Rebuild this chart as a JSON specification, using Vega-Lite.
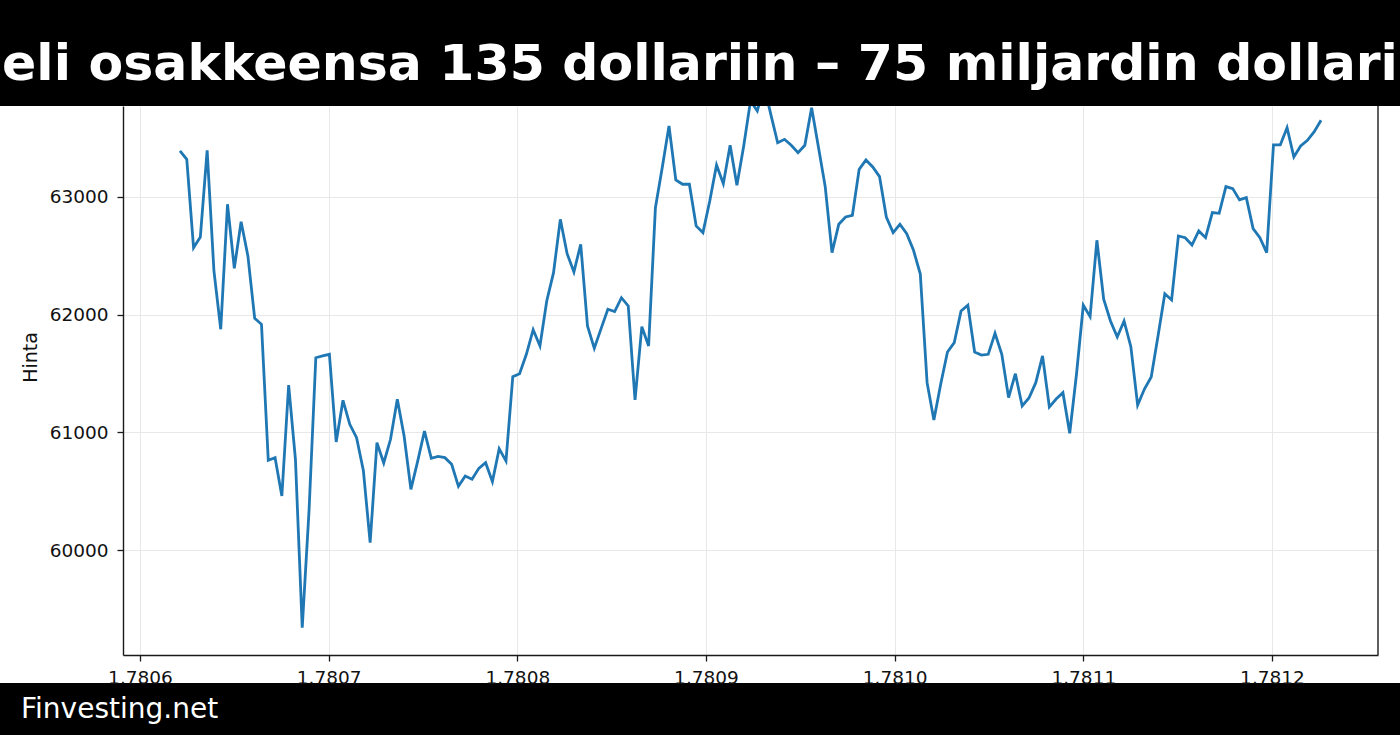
{
  "$schema": "https://vega.github.io/schema/vega-lite/v6.json",
  "background": "black",
  "padding": 0,
  "spacing": 0,
  "config": {"view": {"stroke": null}, "font": "DejaVu Sans"},
  "vconcat": [
    {
      "width": 1400,
      "height": 105,
      "view": {"fill": "black", "stroke": null},
      "data": {"values": [{"otsikko": "eli osakkeensa 135 dollariin – 75 miljardin dollari"}]},
      "mark": {"type": "text", "font": "DejaVu Sans", "fontWeight": "bold", "fontSize": 50.5, "color": "white", "dy": 12},
      "encoding": {"text": {"field": "otsikko"}}
    },
    {
      "width": 1400,
      "height": 577,
      "view": {"fill": "white", "stroke": null},
      "layer": [
        {
          "data": {"values": [
            {"t": 1.7806212, "hinta": 63391}, {"t": 1.7806248, "hinta": 63320}, {"t": 1.7806284, "hinta": 62569}, {"t": 1.7806320, "hinta": 62660},
            {"t": 1.7806356, "hinta": 63397}, {"t": 1.7806392, "hinta": 62371}, {"t": 1.7806428, "hinta": 61876}, {"t": 1.7806464, "hinta": 62938},
            {"t": 1.7806500, "hinta": 62394}, {"t": 1.7806536, "hinta": 62790}, {"t": 1.7806572, "hinta": 62499}, {"t": 1.7806608, "hinta": 61969},
            {"t": 1.7806644, "hinta": 61918}, {"t": 1.7806680, "hinta": 60762}, {"t": 1.7806716, "hinta": 60785}, {"t": 1.7806752, "hinta": 60459},
            {"t": 1.7806788, "hinta": 61402}, {"t": 1.7806824, "hinta": 60771}, {"t": 1.7806860, "hinta": 59340}, {"t": 1.7806896, "hinta": 60332},
            {"t": 1.7806932, "hinta": 61634}, {"t": 1.7806968, "hinta": 61649}, {"t": 1.7807004, "hinta": 61663}, {"t": 1.7807040, "hinta": 60918},
            {"t": 1.7807076, "hinta": 61272}, {"t": 1.7807112, "hinta": 61068}, {"t": 1.7807148, "hinta": 60955}, {"t": 1.7807184, "hinta": 60677},
            {"t": 1.7807220, "hinta": 60062}, {"t": 1.7807256, "hinta": 60912}, {"t": 1.7807292, "hinta": 60740}, {"t": 1.7807328, "hinta": 60941},
            {"t": 1.7807364, "hinta": 61281}, {"t": 1.7807400, "hinta": 60969}, {"t": 1.7807436, "hinta": 60516}, {"t": 1.7807472, "hinta": 60756},
            {"t": 1.7807508, "hinta": 61011}, {"t": 1.7807544, "hinta": 60779}, {"t": 1.7807580, "hinta": 60796}, {"t": 1.7807616, "hinta": 60785},
            {"t": 1.7807652, "hinta": 60728}, {"t": 1.7807688, "hinta": 60541}, {"t": 1.7807724, "hinta": 60629}, {"t": 1.7807760, "hinta": 60601},
            {"t": 1.7807796, "hinta": 60694}, {"t": 1.7807832, "hinta": 60742}, {"t": 1.7807868, "hinta": 60581}, {"t": 1.7807904, "hinta": 60861},
            {"t": 1.7807940, "hinta": 60756}, {"t": 1.7807976, "hinta": 61473}, {"t": 1.7808012, "hinta": 61498}, {"t": 1.7808048, "hinta": 61663},
            {"t": 1.7808084, "hinta": 61872}, {"t": 1.7808120, "hinta": 61734}, {"t": 1.7808156, "hinta": 62116}, {"t": 1.7808192, "hinta": 62357},
            {"t": 1.7808228, "hinta": 62810}, {"t": 1.7808264, "hinta": 62518}, {"t": 1.7808300, "hinta": 62363}, {"t": 1.7808336, "hinta": 62598},
            {"t": 1.7808372, "hinta": 61904}, {"t": 1.7808408, "hinta": 61714}, {"t": 1.7808444, "hinta": 61881}, {"t": 1.7808480, "hinta": 62046},
            {"t": 1.7808516, "hinta": 62026}, {"t": 1.7808552, "hinta": 62144}, {"t": 1.7808588, "hinta": 62074}, {"t": 1.7808624, "hinta": 61275},
            {"t": 1.7808660, "hinta": 61898}, {"t": 1.7808696, "hinta": 61734}, {"t": 1.7808732, "hinta": 62909}, {"t": 1.7808768, "hinta": 63249},
            {"t": 1.7808804, "hinta": 63603}, {"t": 1.7808840, "hinta": 63144}, {"t": 1.7808876, "hinta": 63108}, {"t": 1.7808912, "hinta": 63108},
            {"t": 1.7808948, "hinta": 62754}, {"t": 1.7808984, "hinta": 62697}, {"t": 1.7809020, "hinta": 62966}, {"t": 1.7809056, "hinta": 63272},
            {"t": 1.7809092, "hinta": 63113}, {"t": 1.7809128, "hinta": 63439}, {"t": 1.7809164, "hinta": 63099}, {"t": 1.7809200, "hinta": 63433},
            {"t": 1.7809236, "hinta": 63816}, {"t": 1.7809272, "hinta": 63731}, {"t": 1.7809308, "hinta": 63943}, {"t": 1.7809344, "hinta": 63700},
            {"t": 1.7809380, "hinta": 63461}, {"t": 1.7809416, "hinta": 63490}, {"t": 1.7809452, "hinta": 63439}, {"t": 1.7809488, "hinta": 63377},
            {"t": 1.7809524, "hinta": 63439}, {"t": 1.7809560, "hinta": 63759}, {"t": 1.7809596, "hinta": 63425}, {"t": 1.7809632, "hinta": 63088},
            {"t": 1.7809668, "hinta": 62527}, {"t": 1.7809704, "hinta": 62768}, {"t": 1.7809740, "hinta": 62830}, {"t": 1.7809776, "hinta": 62844},
            {"t": 1.7809812, "hinta": 63235}, {"t": 1.7809848, "hinta": 63314}, {"t": 1.7809884, "hinta": 63255}, {"t": 1.7809920, "hinta": 63173},
            {"t": 1.7809956, "hinta": 62830}, {"t": 1.7809992, "hinta": 62697}, {"t": 1.7810028, "hinta": 62768}, {"t": 1.7810064, "hinta": 62688},
            {"t": 1.7810100, "hinta": 62547}, {"t": 1.7810136, "hinta": 62345}, {"t": 1.7810172, "hinta": 61422}, {"t": 1.7810208, "hinta": 61105},
            {"t": 1.7810244, "hinta": 61408}, {"t": 1.7810280, "hinta": 61683}, {"t": 1.7810316, "hinta": 61762}, {"t": 1.7810352, "hinta": 62031},
            {"t": 1.7810388, "hinta": 62080}, {"t": 1.7810424, "hinta": 61683}, {"t": 1.7810460, "hinta": 61657}, {"t": 1.7810496, "hinta": 61663},
            {"t": 1.7810532, "hinta": 61841}, {"t": 1.7810568, "hinta": 61663}, {"t": 1.7810604, "hinta": 61295}, {"t": 1.7810640, "hinta": 61498},
            {"t": 1.7810676, "hinta": 61224}, {"t": 1.7810712, "hinta": 61292}, {"t": 1.7810748, "hinta": 61422}, {"t": 1.7810784, "hinta": 61649},
            {"t": 1.7810820, "hinta": 61215}, {"t": 1.7810856, "hinta": 61283}, {"t": 1.7810892, "hinta": 61337}, {"t": 1.7810928, "hinta": 60992},
            {"t": 1.7810964, "hinta": 61496}, {"t": 1.7811000, "hinta": 62080}, {"t": 1.7811036, "hinta": 61983}, {"t": 1.7811072, "hinta": 62632},
            {"t": 1.7811108, "hinta": 62131}, {"t": 1.7811144, "hinta": 61946}, {"t": 1.7811180, "hinta": 61810}, {"t": 1.7811216, "hinta": 61946},
            {"t": 1.7811252, "hinta": 61728}, {"t": 1.7811288, "hinta": 61232}, {"t": 1.7811324, "hinta": 61368}, {"t": 1.7811360, "hinta": 61470},
            {"t": 1.7811396, "hinta": 61819}, {"t": 1.7811432, "hinta": 62178}, {"t": 1.7811468, "hinta": 62125}, {"t": 1.7811504, "hinta": 62669},
            {"t": 1.7811540, "hinta": 62654}, {"t": 1.7811576, "hinta": 62592}, {"t": 1.7811612, "hinta": 62711}, {"t": 1.7811648, "hinta": 62654},
            {"t": 1.7811684, "hinta": 62867}, {"t": 1.7811720, "hinta": 62861}, {"t": 1.7811756, "hinta": 63088}, {"t": 1.7811792, "hinta": 63071},
            {"t": 1.7811828, "hinta": 62975}, {"t": 1.7811864, "hinta": 62994}, {"t": 1.7811900, "hinta": 62731}, {"t": 1.7811936, "hinta": 62654},
            {"t": 1.7811972, "hinta": 62527}, {"t": 1.7812008, "hinta": 63442}, {"t": 1.7812044, "hinta": 63442}, {"t": 1.7812080, "hinta": 63589},
            {"t": 1.7812116, "hinta": 63340}, {"t": 1.7812152, "hinta": 63433}, {"t": 1.7812188, "hinta": 63482}, {"t": 1.7812224, "hinta": 63555},
            {"t": 1.7812260, "hinta": 63652}
          ]},
          "mark": {"type": "line", "color": "#1f77b4", "strokeWidth": 2.8, "clip": true},
          "encoding": {
            "x": {
              "field": "t", "type": "quantitative",
              "scale": {"domain": [1.780591, 1.7812562], "range": [123, 1378], "nice": false, "zero": false},
              "axis": {
                "title": null, "values": [1.7806, 1.7807, 1.7808, 1.7809, 1.781, 1.7811, 1.7812], "format": ".4f",
                "orient": "bottom", "offset": -28,
                "grid": false,
                "domain": true, "domainColor": "#1a1a1a", "domainWidth": 1.4,
                "tickSize": 6, "tickColor": "#1a1a1a", "tickWidth": 1.3,
                "labelFont": "DejaVu Sans", "labelFontSize": 18.5, "labelColor": "#111", "labelPadding": 7,
                "labelFlush": false, "labelOverlap": false
              }
            },
            "y": {
              "field": "hinta", "type": "quantitative",
              "scale": {"domain": [59108, 63773], "range": [549, 0], "nice": false, "zero": false},
              "axis": {
                "title": "Hinta", "titleFont": "DejaVu Sans", "titleFontSize": 19, "titleFontWeight": "normal", "titleColor": "#111",
                "titleX": -83, "titleY": 251,
                "offset": -123,
                "values": [60000, 61000, 62000, 63000], "format": "d",
                "grid": true, "gridColor": "#e8e8e8", "gridWidth": 1,
                "domain": true, "domainColor": "#1a1a1a", "domainWidth": 1.4,
                "tickSize": 6, "tickColor": "#1a1a1a", "tickWidth": 1.3,
                "labelFont": "DejaVu Sans", "labelFontSize": 18.5, "labelColor": "#111", "labelPadding": 9,
                "labelOverlap": false
              }
            }
          }
        },
        {
          "data": {"values": [{}]},
          "mark": {"type": "rule", "color": "#1a1a1a", "strokeWidth": 1.4},
          "encoding": {
            "x": {
              "datum": 1.7812562, "type": "quantitative",
              "axis": {
                "orient": "top", "values": [1.7806, 1.7807, 1.7808, 1.7809, 1.781, 1.7811, 1.7812],
                "grid": true, "gridColor": "#e8e8e8", "gridWidth": 1,
                "labels": false, "ticks": false, "domain": false, "title": null
              }
            },
            "y": {"datum": 63773, "type": "quantitative"},
            "y2": {"datum": 59108}
          }
        }
      ],
      "resolve": {"axis": {"x": "independent"}}
    },
    {
      "width": 1400,
      "height": 52,
      "view": {"fill": "black", "stroke": null},
      "data": {"values": [{"lahde": "Finvesting.net"}]},
      "mark": {"type": "text", "font": "DejaVu Sans", "fontSize": 28, "color": "white", "align": "left", "dy": -3.5},
      "encoding": {"text": {"field": "lahde"}, "x": {"value": 21}}
    }
  ]
}
